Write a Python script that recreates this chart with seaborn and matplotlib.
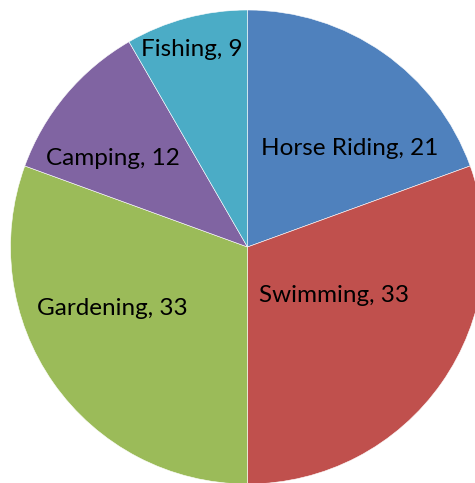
import matplotlib
matplotlib.use('Agg')
import matplotlib.pyplot as plt
import seaborn as sns

# data
activities = ['Horse Riding', 'Swimming', 'Gardening', 'Camping', 'Fishing']
counts = [21, 33, 33, 12, 9]
colors = sns.color_palette(['#4F81BD', '#C0504D', '#9BBB59', '#8064A2', '#4BACC6'])

# label spots (in pie-radius units), roughly where the original put them
label_xy = [(0.43, 0.415), (0.364, -0.205), (-0.572, -0.26), (-0.567, 0.373), (-0.234, 0.832)]

sns.set_theme(style='white')
plt.rcParams['font.family'] = ['Lato', 'DejaVu Sans']

fig = plt.figure(figsize=(4.75, 4.83), dpi=100)
ax = fig.add_axes([0, 0, 1, 1])

ax.pie(counts, colors=colors, startangle=90, counterclock=False, radius=1,
       wedgeprops={'linewidth': 0.4, 'edgecolor': 'white'})

for name, val, (x, y) in zip(activities, counts, label_xy):
    ax.text(x, y, f'{name}, {val}', ha='center', va='center', fontsize=17.5, color='black')

# pie centre sits at ~(247, 247) px with radius ~237 px, right/bottom cut off
r_px = 237
ax.set_xlim(-247.5 / r_px, (475 - 247.5) / r_px)
ax.set_ylim((247 - 483) / r_px, 247 / r_px)
ax.set_aspect('auto')
ax.axis('off')

fig.savefig('out.png', dpi=100, facecolor='white')
